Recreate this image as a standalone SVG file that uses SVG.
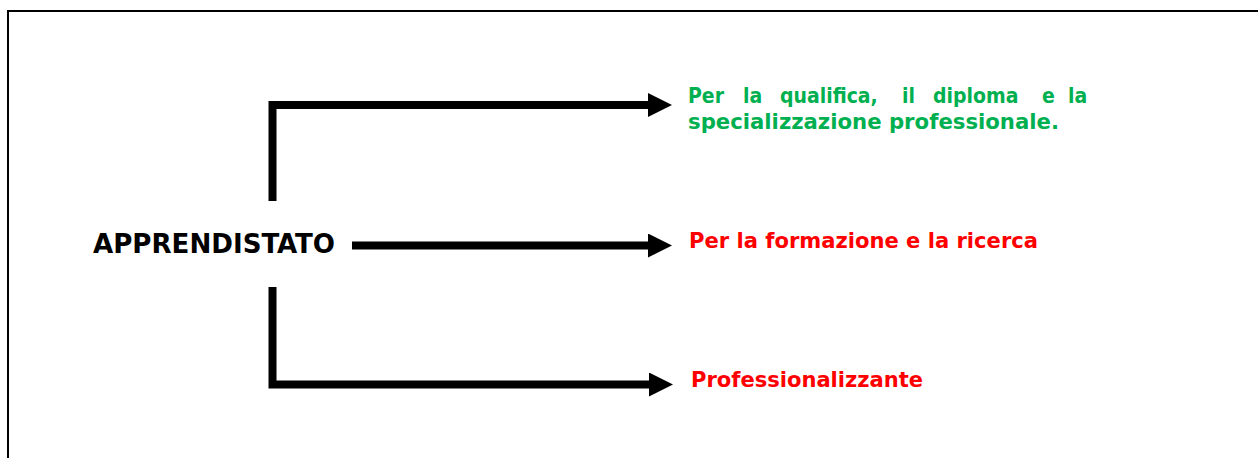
<svg xmlns="http://www.w3.org/2000/svg" width="1258" height="458" viewBox="0 0 1258 458">
  <style>
    .t { font-family: "DejaVu Sans Condensed", "DejaVu Sans", sans-serif; font-weight: bold; }
    .green { fill: #00B050; font-size: 21px; }
    .red { fill: #FF0000; font-size: 22px; }
    .main { fill: #000000; font-size: 27px; }
    .conn { fill: none; stroke: #000000; stroke-width: 8; stroke-linejoin: miter; stroke-linecap: butt; }
  </style>
  <defs>
    <marker id="ah" markerUnits="userSpaceOnUse" markerWidth="24" markerHeight="24" refX="0" refY="12" orient="auto" viewBox="0 0 24 24">
      <path d="M0,0 L24,12 L0,24 Z" fill="#000000"/>
    </marker>
  </defs>
  <rect width="1258" height="458" fill="#ffffff"/>
  <path d="M8,458 V11 H1258" fill="none" stroke="#000000" stroke-width="2"/>

  <g id="connectors">
    <path class="conn" d="M272.5,201 V105 H648" marker-end="url(#ah)"/>
    <path class="conn" d="M352,245.5 H648" marker-end="url(#ah)"/>
    <path class="conn" d="M272.5,287 V384.5 H649" marker-end="url(#ah)"/>
  </g>

  <g id="node-apprendistato">
    <text class="t main" x="93" y="252.5" textLength="242" lengthAdjust="spacingAndGlyphs">APPRENDISTATO</text>
  </g>

  <g id="node-qualifica">
    <text class="t green" y="102.5">
      <tspan x="688">Per</tspan><tspan x="743">la</tspan><tspan x="780">qualifica,</tspan><tspan x="902">il</tspan><tspan x="933">diploma</tspan><tspan x="1042">e</tspan><tspan x="1068">la</tspan>
    </text>
    <text class="t green" x="688" y="129" textLength="371" lengthAdjust="spacingAndGlyphs">specializzazione professionale.</text>
  </g>

  <g id="node-formazione">
    <text class="t red" x="689" y="248" textLength="349" lengthAdjust="spacingAndGlyphs">Per la formazione e la ricerca</text>
  </g>

  <g id="node-professionalizzante">
    <text class="t red" x="691" y="387" textLength="232" lengthAdjust="spacingAndGlyphs">Professionalizzante</text>
  </g>
</svg>
